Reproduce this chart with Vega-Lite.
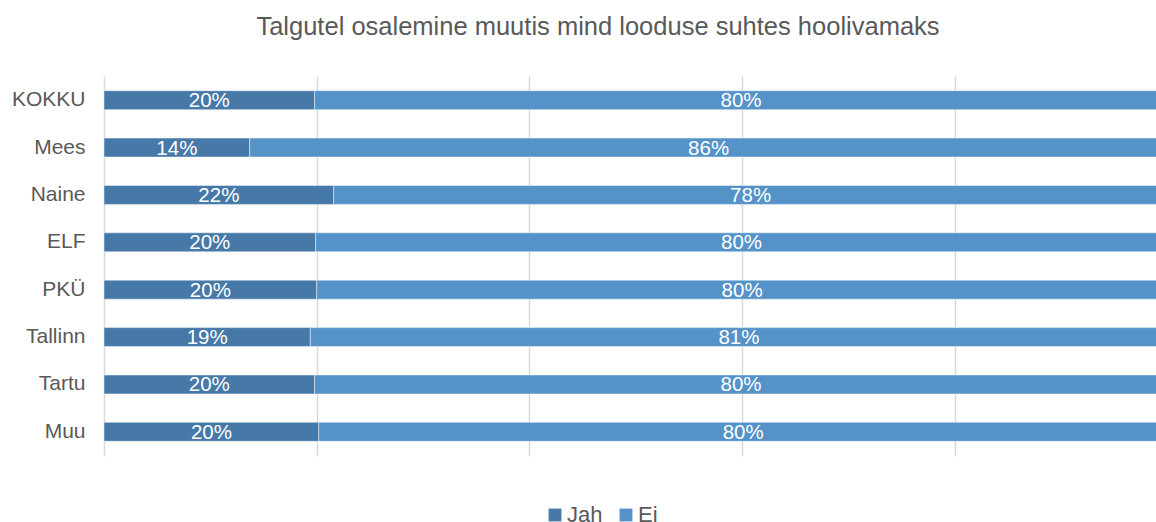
{
  "$schema": "https://vega.github.io/schema/vega-lite/v6.json",
  "width": 1052,
  "height": 380,
  "autosize": {"type": "none"},
  "padding": {"left": 104, "top": 76, "right": 0, "bottom": 66},
  "background": "white",
  "title": {
    "text": "Talgutel osalemine muutis mind looduse suhtes hoolivamaks",
    "anchor": "middle",
    "frame": "group",
    "dx": -32,
    "offset": 16,
    "baseline": "alphabetic",
    "font": "Liberation Sans",
    "fontSize": 25.5,
    "fontWeight": "normal",
    "color": "#595959"
  },
  "config": {"view": {"stroke": null}, "font": "Liberation Sans"},
  "data": {
    "values": [
      {"grupp": "KOKKU", "vastus": "Jah", "osakaal": 0.198},
      {"grupp": "KOKKU", "vastus": "Ei", "osakaal": 0.802},
      {"grupp": "Mees", "vastus": "Jah", "osakaal": 0.137},
      {"grupp": "Mees", "vastus": "Ei", "osakaal": 0.863},
      {"grupp": "Naine", "vastus": "Jah", "osakaal": 0.216},
      {"grupp": "Naine", "vastus": "Ei", "osakaal": 0.784},
      {"grupp": "ELF", "vastus": "Jah", "osakaal": 0.199},
      {"grupp": "ELF", "vastus": "Ei", "osakaal": 0.801},
      {"grupp": "PKÜ", "vastus": "Jah", "osakaal": 0.2},
      {"grupp": "PKÜ", "vastus": "Ei", "osakaal": 0.8},
      {"grupp": "Tallinn", "vastus": "Jah", "osakaal": 0.194},
      {"grupp": "Tallinn", "vastus": "Ei", "osakaal": 0.806},
      {"grupp": "Tartu", "vastus": "Jah", "osakaal": 0.198},
      {"grupp": "Tartu", "vastus": "Ei", "osakaal": 0.802},
      {"grupp": "Muu", "vastus": "Jah", "osakaal": 0.202},
      {"grupp": "Muu", "vastus": "Ei", "osakaal": 0.798}
    ]
  },
  "encoding": {
    "y": {
      "field": "grupp",
      "type": "nominal",
      "sort": ["KOKKU", "Mees", "Naine", "ELF", "PKÜ", "Tallinn", "Tartu", "Muu"],
      "scale": {"paddingInner": 0.6, "paddingOuter": 0.31},
      "axis": {
        "title": null,
        "ticks": false,
        "domain": false,
        "labelFontSize": 21,
        "labelColor": "#595959",
        "labelPadding": 19,
        "labelFont": "Liberation Sans"
      }
    },
    "order": {"field": "vastus", "sort": "descending"}
  },
  "layer": [
    {
      "mark": {"type": "bar", "clip": true, "stroke": "white", "strokeWidth": 0.75, "strokeOpacity": 0.6},
      "encoding": {
        "x": {
          "field": "osakaal",
          "type": "quantitative",
          "stack": "zero",
          "scale": {"domain": [0, 0.98919], "nice": false, "zero": true},
          "axis": {
            "title": null,
            "labels": false,
            "ticks": false,
            "domain": false,
            "grid": true,
            "gridColor": "#d9d9d9",
            "gridWidth": 1.5,
            "values": [0, 0.2, 0.4, 0.6, 0.8]
          }
        },
        "color": {
          "field": "vastus",
          "type": "nominal",
          "scale": {"domain": ["Jah", "Ei"], "range": ["#4679A8", "#5592C8"]},
          "legend": {
            "orient": "none",
            "legendX": 440,
            "legendY": 428,
            "direction": "horizontal",
            "title": null,
            "symbolType": "square",
            "symbolSize": 165,
            "symbolStrokeWidth": 0,
            "symbolOpacity": 1,
            "labelFontSize": 22,
            "labelColor": "#595959",
            "labelFont": "Liberation Sans",
            "labelOffset": 1,
            "columnPadding": 12,
            "padding": 0
          }
        }
      }
    },
    {
      "mark": {"type": "text", "color": "white", "fontSize": 20.5, "font": "Liberation Sans", "baseline": "middle", "dy": 1},
      "encoding": {
        "x": {"field": "osakaal", "type": "quantitative", "stack": "zero", "bandPosition": 0.5},
        "text": {"field": "osakaal", "type": "quantitative", "format": ".0%"}
      }
    }
  ]
}
